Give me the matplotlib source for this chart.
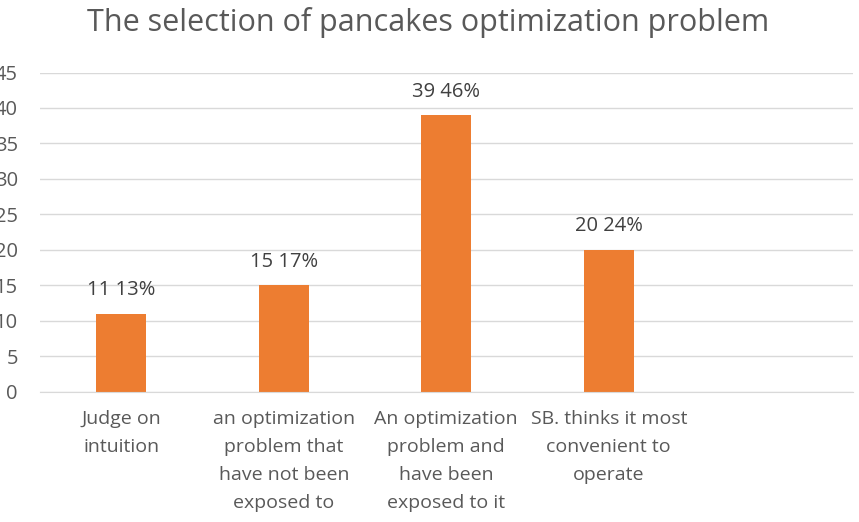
import matplotlib.pyplot as plt

categories = ["Judge on\nintuition",
              "an optimization\nproblem that\nhave not been\nexposed to",
              "An optimization\nproblem and\nhave been\nexposed to it",
              "SB. thinks it most\nconvenient to\noperate",
              ""]
counts = [11, 15, 39, 20, None]
percents = ["13%", "17%", "46%", "24%", ""]
yticks = [0, 5, 10, 15, 20, 25, 30, 35, 40, 45]

plt.rcParams['font.family'] = ['Open Sans', 'DejaVu Sans']
grey = "#595959"

fig = plt.figure(figsize=(8.59, 5.22), dpi=100)
ax = fig.add_axes([40/859, 1 - 391.5/522, 812.5/859, 319/522])

xs = list(range(len(categories)))
vals = [c if c is not None else 0 for c in counts]
bars = ax.bar(xs, vals, width=0.31, color="#ED7D31", zorder=3)
for x, c, p in zip(xs, counts, percents):
    if c is None:
        continue
    ax.text(x, c + 1.9, f"{c} {p}", ha="center", va="bottom", fontsize=14.5, color="#404040")

ax.set_xlim(-0.5, 4.5)
ax.set_ylim(0, 45)
ax.set_yticks(yticks)
ax.grid(axis="y", color="#D9D9D9", linewidth=1.0, zorder=0)
ax.set_xticks(xs)
ax.set_xticklabels(categories, fontsize=14, color=grey, linespacing=1.72, va="top")
ax.tick_params(axis="y", length=0, pad=16, labelsize=14.5, labelcolor=grey)
ax.tick_params(axis="x", length=0, pad=13)
for s in ["top", "right", "left"]:
    ax.spines[s].set_visible(False)
ax.spines["bottom"].set_color("#D9D9D9")
ax.spines["bottom"].set_zorder(4)

fig.text(428/859, 1 - 22/522, "The selection of pancakes optimization problem",
         ha="center", va="center", fontsize=22, color=grey)

fig.savefig("out.png", dpi=100)
